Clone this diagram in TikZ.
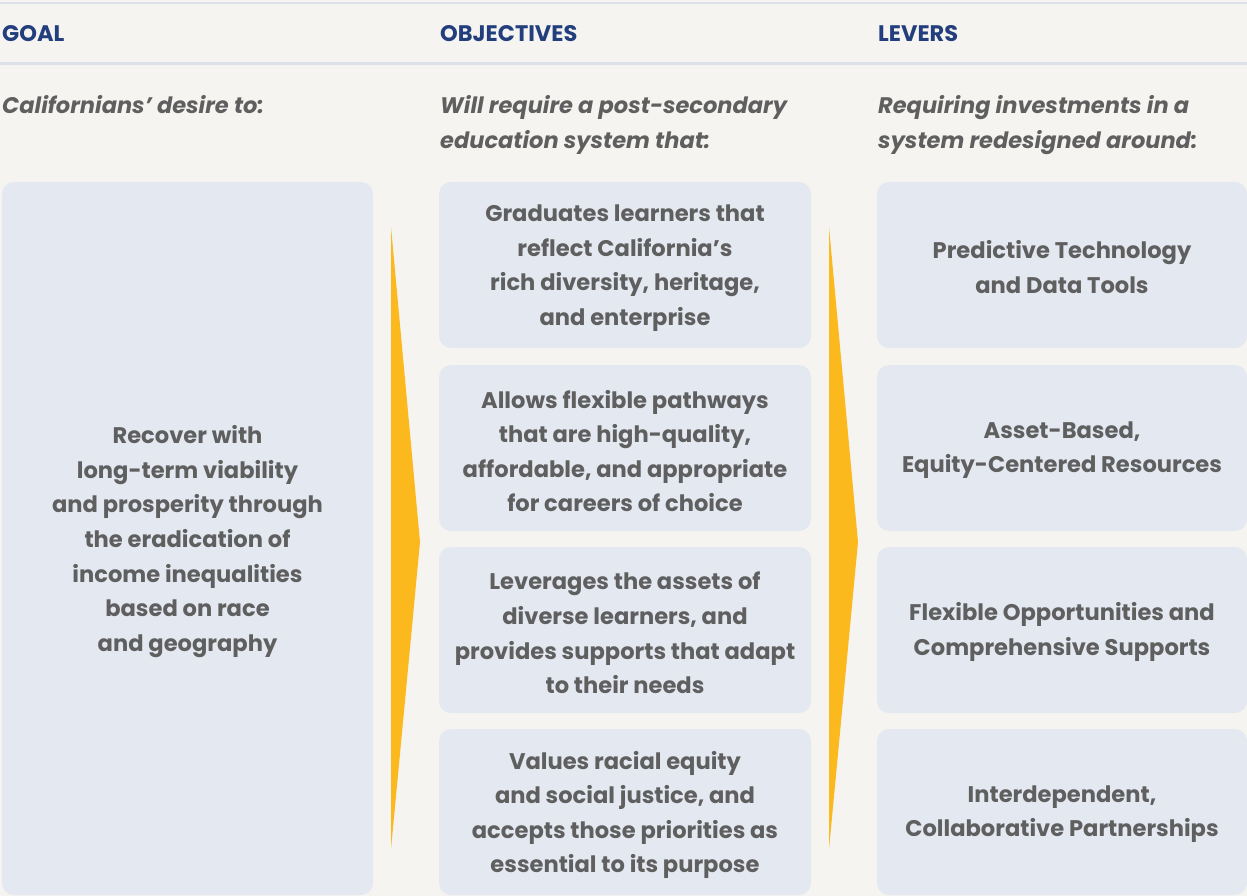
\documentclass[tikz,border=0pt]{standalone}
\usepackage{fontspec}
\setmainfont{Poppins}
\definecolor{bgc}{HTML}{F5F4F0}
\definecolor{boxc}{HTML}{E3E8F1}
\definecolor{txtc}{HTML}{5F5F5F}
\definecolor{headc}{HTML}{223E7C}
\definecolor{arrc}{HTML}{FBB91E}
\definecolor{rulec}{HTML}{DDE0E8}
\tikzset{
  card/.style={fill=boxc, rounded corners=12pt, inner sep=0pt, outer sep=0pt, anchor=north west},
  ctext/.style={inner sep=0pt, text=txtc, align=center, yshift=-3pt,
    font=\fontsize{22.6}{34.6}\selectfont\bfseries},
  head/.style={anchor=base west, inner sep=0pt, text=headc, font=\fontsize{22.5}{24}\selectfont\bfseries},
  sub/.style={anchor=base west, inner sep=0pt, text=txtc, align=left, font=\fontsize{22.5}{35}\selectfont\bfseries\itshape},
  rule/.style={draw=rulec, line width=2.5pt},
  chev/.style={fill=arrc}
}
\begin{document}
\begin{tikzpicture}[x=1pt,y=-1pt]
\useasboundingbox (0,0) rectangle (1247,896);
\fill[bgc] (0,0) rectangle (1247,896);
% rules
\coordinate (r1a) at (0,3); \coordinate (r1b) at (1247,3);
\coordinate (r2a) at (0,63.5); \coordinate (r2b) at (1247,63.5);
\draw[rule] (r1a) -- (r1b);
\draw[rule] (r2a) -- (r2b);
% headers
\node[head] (hgoal) at (2,42) {GOAL};
\node[head] (hobj) at (440,42) {OBJECTIVES};
\node[head] (hlev) at (878,42) {LEVERS};
% subheadings
\node[sub] (sgoal) at (2,114) {Californians’ desire to:};
\node[sub, anchor=north west] (sobj) at (440,95) {Will require a post-secondary\\education system that:};
\node[sub, anchor=north west] (slev) at (878,95) {Requiring investments in a\\system redesigned around:};
% boxes
\node[card, minimum width=371pt, minimum height=713pt] (goal) at (2,182) {};
\node[card, minimum width=372pt, minimum height=166pt] (o1) at (439,182) {};
\node[card, minimum width=372pt, minimum height=166pt] (o2) at (439,365) {};
\node[card, minimum width=372pt, minimum height=166pt] (o3) at (439,547) {};
\node[card, minimum width=372pt, minimum height=166pt] (o4) at (439,729) {};
\node[card, minimum width=370pt, minimum height=166pt] (l1) at (877,182) {};
\node[card, minimum width=370pt, minimum height=166pt] (l2) at (877,365) {};
\node[card, minimum width=370pt, minimum height=166pt] (l3) at (877,547) {};
\node[card, minimum width=370pt, minimum height=166pt] (l4) at (877,729) {};
% texts
\node[ctext] (tgoal) at (goal.center)
  {Recover with\\long-term viability\\and prosperity through\\the eradication of\\income inequalities\\based on race\\and geography};
\node[ctext] (to1) at (o1.center)
  {Graduates learners that\\reflect California’s\\rich diversity, heritage,\\and enterprise};
\node[ctext] (to2) at (o2.center)
  {Allows flexible pathways\\that are high-quality,\\affordable, and appropriate\\for careers of choice};
\node[ctext] (to3) at (o3.center)
  {Leverages the assets of\\diverse learners, and\\provides supports that adapt\\to their needs};
\node[ctext] (to4) at (o4.center)
  {Values racial equity\\and social justice, and\\accepts those priorities as\\essential to its purpose};
\node[ctext, yshift=1pt] (tl1) at (l1.center)
  {Predictive Technology\\and Data Tools};
\node[ctext, yshift=1pt] (tl2) at (l2.center)
  {Asset-Based,\\Equity-Centered Resources};
\node[ctext, yshift=1pt] (tl3) at (l3.center)
  {Flexible Opportunities and\\Comprehensive Supports};
\node[ctext, yshift=1pt] (tl4) at (l4.center)
  {Interdependent,\\Collaborative Partnerships};
% chevrons
\coordinate (a1t) at (391,227); \coordinate (a1p) at (420,542); \coordinate (a1b) at (391,849);
\coordinate (a2t) at (829,227); \coordinate (a2p) at (858,542); \coordinate (a2b) at (829,849);
\fill[chev] (a1t) -- (a1p) -- (a1b) -- cycle;
\fill[chev] (a2t) -- (a2p) -- (a2b) -- cycle;
\end{tikzpicture}
\end{document}
